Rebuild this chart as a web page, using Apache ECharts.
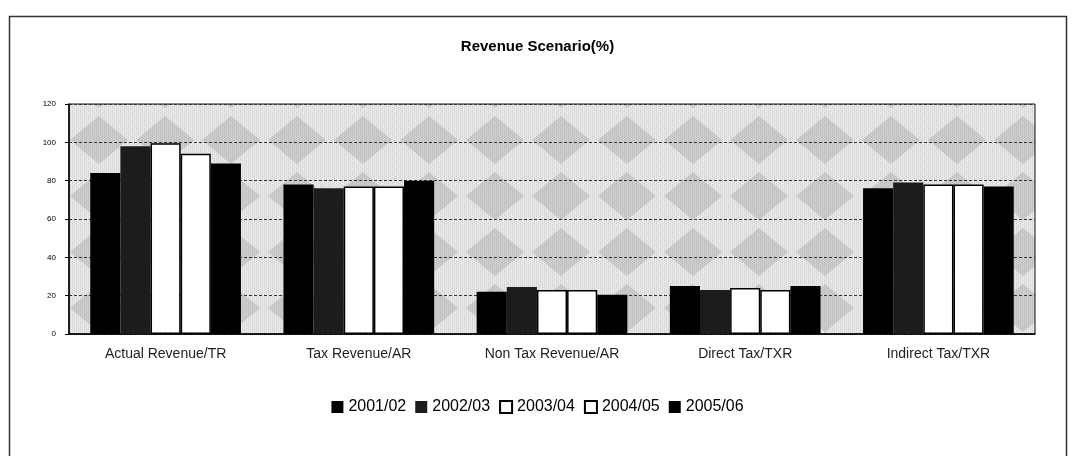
<!DOCTYPE html>
<html>
<head>
<meta charset="utf-8">
<title>Revenue Scenario</title>
<script src="https://cdn.jsdelivr.net/npm/echarts@6/dist/echarts.min.js"></script>
<style>
  html, body { margin: 0; padding: 0; background: #fff; }
  #main { width: 1075px; height: 456px; }
</style>
</head>
<body>
<div id="main"></div>
<script>
// ratios per indicator, one array per fiscal year
var categories = ['Actual Revenue/TR', 'Tax Revenue/AR', 'Non Tax Revenue/AR', 'Direct Tax/TXR', 'Indirect Tax/TXR'];
var years = ['2001/02', '2002/03', '2003/04', '2004/05', '2005/06'];
var y2001 = [84, 78, 22, 25, 76];
var y2002 = [98, 76, 24.5, 23, 79];
var y2003 = [99.5, 77, 23, 24, 78];
var y2004 = [94, 77, 23, 23, 78];
var y2005 = [89, 80, 20.5, 25, 77];
var yTicks = [0, 20, 40, 60, 80, 100, 120];

// grey stippled diamond backdrop like the old excel fill
function makePattern () {
  var c = document.createElement('canvas');
  c.width = 66; c.height = 56;
  var ctx = c.getContext('2d');
  ctx.fillStyle = '#e9e9e9';
  ctx.fillRect(0, 0, 66, 56);
  ctx.fillStyle = '#cdcdcd';
  ctx.beginPath();
  ctx.moveTo(33, 4); ctx.lineTo(62, 28); ctx.lineTo(33, 52); ctx.lineTo(4, 28);
  ctx.closePath();
  ctx.fill();
  // light dither
  ctx.fillStyle = 'rgba(150,150,150,0.35)';
  for (var x = 0; x < 66; x += 2) {
    for (var y = (x / 2) % 2; y < 56; y += 2) ctx.fillRect(x, y, 1, 1);
  }
  return c;
}

var font = '"Liberation Sans", Arial, sans-serif';

function barSeries (name, data, fill) {
  var white = fill === '#ffffff';
  return {
    name: name,
    type: 'bar',
    data: data,
    barGap: '0%',
    barCategoryGap: '22%',
    itemStyle: {
      color: fill,
      borderColor: '#000',
      borderWidth: white ? 1.5 : 0
    }
  };
}

var myChart = echarts.init(document.getElementById('main'));
myChart.setOption({
  animation: false,
  backgroundColor: '#fff',
  title: {
    text: 'Revenue Scenario(%)',
    left: 'center',
    top: 34,
    textStyle: { fontFamily: font, fontSize: 15, fontWeight: 'bold', color: '#000' }
  },
  graphic: [{
    type: 'rect',
    left: 7, top: 14,
    shape: { width: 1057, height: 450 },
    style: { fill: 'none', stroke: '#333', lineWidth: 1.5 }
  }],
  legend: {
    data: years,
    top: 394,
    left: 'center',
    icon: 'rect',
    itemWidth: 12,
    itemHeight: 12,
    itemGap: 9,
    textStyle: { fontFamily: font, fontSize: 16, color: '#000' }
  },
  grid: {
    left: 69, right: 40, top: 104, bottom: 122,
    show: true,
    backgroundColor: { image: makePattern(), repeat: 'repeat' },
    borderColor: '#111',
    borderWidth: 1
  },
  xAxis: {
    type: 'category',
    data: categories,
    axisLine: { lineStyle: { color: '#000', width: 1.5 } },
    axisTick: { show: false },
    axisLabel: { fontFamily: font, fontSize: 14, color: '#222', margin: 13 }
  },
  yAxis: {
    type: 'value',
    min: yTicks[0],
    max: yTicks[yTicks.length - 1],
    interval: 20,
    axisLine: { show: true, lineStyle: { color: '#000', width: 1.5 } },
    axisTick: { show: true, length: 4, lineStyle: { color: '#000' } },
    axisLabel: { fontFamily: font, fontSize: 8, color: '#000', margin: 13 },
    splitLine: { lineStyle: { color: '#333', type: [3, 2], width: 1 } }
  },
  series: [
    barSeries(years[0], y2001, '#000000'),
    barSeries(years[1], y2002, '#1c1c1c'),
    barSeries(years[2], y2003, '#ffffff'),
    barSeries(years[3], y2004, '#ffffff'),
    barSeries(years[4], y2005, '#000000')
  ]
});
window.onresize = myChart.resize;
</script>
</body>
</html>
